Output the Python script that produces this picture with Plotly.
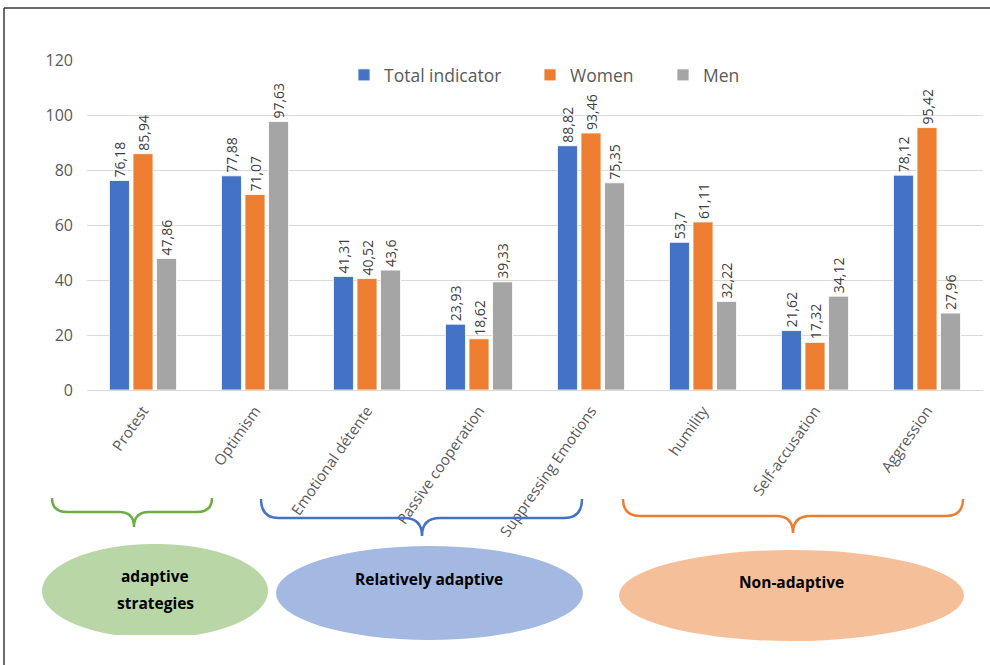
import numpy as np
import plotly.graph_objects as go

# Coping strategy categories and scores per group
categories = ["Protest", "Optimism", "Emotional détente", "Passive cooperation",
              "Suppressing Emotions", "humility", "Self-accusation", "Aggression"]
total_indicator = [76.18, 77.88, 41.31, 23.93, 88.82, 53.7, 21.62, 78.12]
women = [85.94, 71.07, 40.52, 18.62, 93.46, 61.11, 17.32, 95.42]
men = [47.86, 97.63, 43.6, 39.33, 75.35, 32.22, 34.12, 27.96]
y_ticks = [0, 20, 40, 60, 80, 100, 120]

W, H = 990, 665
L, R, T, B = 87, 983, 60, 390  # plot area in pixels

FONT = "Open Sans"
GREY_TXT = "#595959"


def px(x):
    return (x - L) / (R - L)


def py(y):
    return (B - y) / (B - T)


def fmt(v):
    return str(v).replace(".", ",")


series = [
    ("Total indicator", total_indicator, "#4472c4", "legend"),
    ("Women", women, "#ed7d31", "legend2"),
    ("Men", men, "#a5a5a5", "legend3"),
]

fig = go.Figure()
for name, vals, color, leg in series:
    fig.add_trace(go.Bar(
        x=categories, y=vals, name=name, legend=leg, showlegend=True,
        marker=dict(color=color, line=dict(color="rgba(255,255,255,0.8)", width=1)),
        text=[fmt(v) for v in vals], textposition="outside", textangle=-90,
        textfont=dict(family=FONT, size=14, color="#404040"),
        cliponaxis=False, constraintext="none",
    ))


def brace(left, right, tip, top, mid, r):
    """Curly brace opening upward, returned as an SVG path in paper coords."""
    pts = [
        ("M", [(left, top)]),
        ("Q", [(left, mid), (left + r, mid)]),
        ("L", [(tip - r, mid)]),
        ("Q", [(tip, mid), (tip, mid + r)]),
        ("Q", [(tip, mid), (tip + r, mid)]),
        ("L", [(right - r, mid)]),
        ("Q", [(right, mid), (right, top)]),
    ]
    out = []
    for cmd, ps in pts:
        out.append(cmd + " " + " ".join(f"{px(a):.5f},{py(b):.5f}" for a, b in ps))
    return " ".join(out)


shapes = []
# Figure frame (top and left edges)
shapes.append(dict(type="line", xref="paper", yref="paper", x0=px(4), x1=px(W + 5),
                   y0=py(8), y1=py(8), line=dict(color="#3a3a3a", width=1.5)))
shapes.append(dict(type="line", xref="paper", yref="paper", x0=px(4), x1=px(4),
                   y0=py(8), y1=py(H + 5), line=dict(color="#3a3a3a", width=1.5)))

# Group braces under the category labels
shapes.append(dict(type="path", xref="paper", yref="paper",
                   path=brace(52, 212, 134, 498, 512, 15),
                   line=dict(color="#70ad47", width=2.5)))
shapes.append(dict(type="path", xref="paper", yref="paper",
                   path=brace(261, 582, 422, 499, 518, 18),
                   line=dict(color="#4472c4", width=2.5)))
shapes.append(dict(type="path", xref="paper", yref="paper",
                   path=brace(623, 963, 793, 499, 516, 17),
                   line=dict(color="#ed7d31", width=2.5)))

# Group ellipses; the green one is cut flat at the bottom
cx, cy, rx, ry, cut = 155, 591, 113, 47, 635
t = np.linspace(0, 2 * np.pi, 121)
ex = cx + rx * np.cos(t)
ey = np.minimum(cy + ry * np.sin(t), cut)
gpath = "M " + " L ".join(f"{px(a):.5f},{py(b):.5f}" for a, b in zip(ex, ey)) + " Z"
shapes.append(dict(type="path", xref="paper", yref="paper", path=gpath,
                   fillcolor="#b9d7a6", line=dict(width=0)))
shapes.append(dict(type="circle", xref="paper", yref="paper",
                   x0=px(276), x1=px(583), y0=py(546), y1=py(640),
                   fillcolor="#a3b9e1", line=dict(width=0)))
shapes.append(dict(type="circle", xref="paper", yref="paper",
                   x0=px(619), x1=px(964), y0=py(550), y1=py(641),
                   fillcolor="#f5bf99", line=dict(width=0)))

annotations = [
    dict(text="<b>adaptive</b>", x=px(155), y=py(576)),
    dict(text="<b>strategies</b>", x=px(155), y=py(603)),
    dict(text="<b>Relatively adaptive</b>", x=px(429), y=py(579)),
    dict(text="<b>Non-adaptive</b>", x=px(791), y=py(582)),
]
for a in annotations:
    a.update(xref="paper", yref="paper", showarrow=False, xanchor="center",
             yanchor="middle", font=dict(family=FONT, size=15.5, color="#000000"))

legend_style = dict(orientation="h", yanchor="middle", xanchor="left",
                    bgcolor="rgba(0,0,0,0)", font=dict(family=FONT, size=17.5, color=GREY_TXT),
                    itemwidth=30)

fig.update_layout(
    width=W, height=H,
    margin=dict(l=L, r=W - R, t=T, b=H - B),
    paper_bgcolor="white", plot_bgcolor="white",
    showlegend=True,
    barmode="group", bargap=0.37, bargroupgap=0.15,
    font=dict(family=FONT, color=GREY_TXT),
    legend=dict(x=px(344), y=py(75), **legend_style),
    legend2=dict(x=px(530), y=py(75), **legend_style),
    legend3=dict(x=px(663), y=py(75), **legend_style),
    shapes=shapes, annotations=annotations,
    xaxis=dict(tickangle=-55, tickfont=dict(family=FONT, size=15, color=GREY_TXT),
               showline=True, linecolor="#d9d9d9", linewidth=1, ticks="",
               showgrid=False, ticklabelstandoff=5),
    yaxis=dict(range=[0, 120], tickvals=y_ticks, ticks="",
               tickfont=dict(family=FONT, size=16, color=GREY_TXT),
               gridcolor="#d9d9d9", gridwidth=1, zeroline=False, showline=False,
               ticklabelstandoff=13),
)

fig.write_html("out.html")
